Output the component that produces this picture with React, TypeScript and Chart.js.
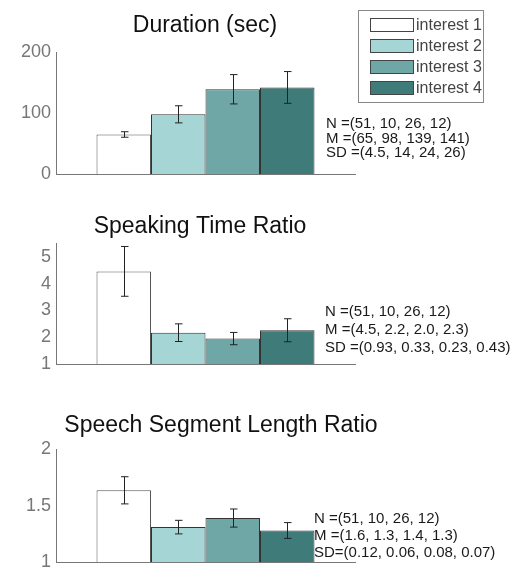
import React, { useEffect, useRef } from "react";
import { Chart, registerables } from "chart.js";

Chart.register(...registerables);

// ---- data ----
const groups = ["interest 1", "interest 2", "interest 3", "interest 4"];
const groupColors = ["#ffffff", "#a6d5d5", "#6fa6a6", "#3e7b79"];

const durationTitle = "Duration (sec)";
const durationMeans = [65, 98, 139, 142];
const durationSD = [4.5, 14, 24, 26];
const durationTicks = [0, 100, 200];
const durationNotes = ["N =(51, 10, 26, 12)", "M =(65, 98, 139, 141)", "SD =(4.5, 14, 24, 26)"];

const speakingTitle = "Speaking Time Ratio";
const speakingMeans = [4.46, 2.17, 1.95, 2.26];
const speakingSD = [0.93, 0.33, 0.23, 0.43];
const speakingTicks = [1, 2, 3, 4, 5];
const speakingNotes = ["N =(51, 10, 26, 12)", "M =(4.5, 2.2, 2.0, 2.3)", "SD =(0.93, 0.33, 0.23, 0.43)"];

const segmentTitle = "Speech Segment Length Ratio";
const segmentMeans = [1.635, 1.31, 1.39, 1.28];
const segmentSD = [0.12, 0.06, 0.08, 0.07];
const segmentTicks = [1, 1.5, 2];
const segmentNotes = ["N =(51, 10, 26, 12)", "M =(1.6, 1.3, 1.4, 1.3)", "SD=(0.12, 0.06, 0.08, 0.07)"];

const FONT = "'Liberation Sans', Arial, sans-serif";

type PanelProps = {
  top: number;
  height: number;
  chartTop: number;
  chartBottom: number;
  yMin: number;
  yMax: number;
  ticks: number[];
  title: string;
  titleX: number;
  titleY: number;
  means: number[];
  sds: number[];
  notes: string[];
  notesX: number;
  notesY: number;
  notesGap: number;
  legend?: boolean;
};

function Panel(p: PanelProps) {
  const ref = useRef<HTMLCanvasElement | null>(null);
  useEffect(() => {
    const canvas = ref.current!;
    const overlay = {
      id: "overlay",
      afterDatasetsDraw(chart: any) {
        const ctx = chart.ctx;
        const y = chart.scales.y;
        ctx.save();
        ctx.strokeStyle = "#222";
        ctx.lineWidth = 1;
        p.means.forEach((m, i) => {
          const el = chart.getDatasetMeta(i).data[0];
          const x = Math.round(el.x) + 0.5;
          const y1 = y.getPixelForValue(m + p.sds[i]);
          const y2 = y.getPixelForValue(m - p.sds[i]);
          ctx.beginPath();
          ctx.moveTo(x, y1);
          ctx.lineTo(x, y2);
          ctx.moveTo(x - 3.5, y1);
          ctx.lineTo(x + 4, y1);
          ctx.moveTo(x - 3.5, y2);
          ctx.lineTo(x + 4, y2);
          ctx.stroke();
        });
        ctx.restore();
      },
      afterDraw(chart: any) {
        const ctx = chart.ctx;
        ctx.save();
        ctx.fillStyle = "#111";
        ctx.font = `23px ${FONT}`;
        ctx.textAlign = "center";
        ctx.textBaseline = "alphabetic";
        ctx.fillText(p.title, p.titleX, p.titleY);
        ctx.font = `15px ${FONT}`;
        ctx.textAlign = "left";
        ctx.textBaseline = "middle";
        ctx.fillStyle = "#1a1a1a";
        p.notes.forEach((t, i) => {
          ctx.fillText(t, p.notesX, p.notesY + i * p.notesGap);
        });
        if (p.legend) {
          ctx.strokeStyle = "#888";
          ctx.lineWidth = 1;
          ctx.strokeRect(358.5, 10.5, 125, 92);
          groups.forEach((g, i) => {
            const ty = 18 + i * 21;
            ctx.fillStyle = groupColors[i];
            ctx.fillRect(370, ty, 44, 14);
            ctx.strokeStyle = "#444";
            ctx.strokeRect(370.5, ty + 0.5, 43, 13);
            ctx.fillStyle = "#444";
            ctx.font = `16px ${FONT}`;
            ctx.textBaseline = "middle";
            ctx.fillText(g, 416, ty + 7.5);
          });
        }
        ctx.restore();
      },
    };
    const chart = new Chart(canvas, {
      type: "bar",
      data: {
        labels: [""],
        datasets: groups.map((g, i) => ({
          label: g,
          data: [p.means[i]],
          backgroundColor: groupColors[i],
          borderColor: i === 0 ? "#555" : "#333",
          borderWidth: 1,
          base: p.yMin,
          categoryPercentage: 0.729,
          barPercentage: 1,
        })),
      },
      options: {
        animation: false,
        responsive: false,
        devicePixelRatio: 1,
        layout: { padding: { top: p.chartTop, right: 527 - 355, left: 0, bottom: 0 } },
        plugins: { legend: { display: false }, title: { display: false }, tooltip: { enabled: false } },
        scales: {
          x: {
            type: "category",
            grid: { display: false, drawTicks: false },
            border: { display: true, color: "#777", width: 1 },
            ticks: { display: false },
            afterFit: (s: any) => {
              s.height = p.height - p.chartBottom;
            },
          },
          y: {
            min: p.yMin,
            max: p.yMax,
            grid: { display: false, drawTicks: false },
            border: { display: true, color: "#777", width: 1 },
            afterBuildTicks: (s: any) => {
              s.ticks = p.ticks.map((v) => ({ value: v }));
            },
            ticks: {
              color: "#777",
              padding: 5,
              font: { family: FONT, size: 18 },
              callback: (v: any) => String(v),
            },
            afterFit: (s: any) => {
              s.width = 56;
            },
          },
        },
      },
      plugins: [overlay],
    } as any);
    return () => chart.destroy();
  }, []);
  return (
    <canvas
      ref={ref}
      width={527}
      height={p.height}
      style={{ position: "absolute", left: 0, top: p.top, width: 527, height: p.height }}
    />
  );
}

export default function App() {
  return (
    <div style={{ position: "fixed", left: 0, top: 0, width: 527, height: 578, background: "#fff" }}>
      <Panel
        top={0}
        height={190}
        chartTop={52}
        chartBottom={175}
        yMin={0}
        yMax={200}
        ticks={durationTicks}
        title={durationTitle}
        titleX={205}
        titleY={32}
        means={durationMeans}
        sds={durationSD}
        notes={durationNotes}
        notesX={326}
        notesY={124}
        notesGap={14.5}
        legend
      />
      <Panel
        top={195}
        height={190}
        chartTop={48}
        chartBottom={169}
        yMin={1}
        yMax={5.52}
        ticks={speakingTicks}
        title={speakingTitle}
        titleX={200}
        titleY={38}
        means={speakingMeans}
        sds={speakingSD}
        notes={speakingNotes}
        notesX={325}
        notesY={117}
        notesGap={18}
      />
      <Panel
        top={390}
        height={188}
        chartTop={59}
        chartBottom={180}
        yMin={1}
        yMax={2}
        ticks={segmentTicks}
        title={segmentTitle}
        titleX={221}
        titleY={42}
        means={segmentMeans}
        sds={segmentSD}
        notes={segmentNotes}
        notesX={314}
        notesY={129}
        notesGap={17}
      />
    </div>
  );
}
